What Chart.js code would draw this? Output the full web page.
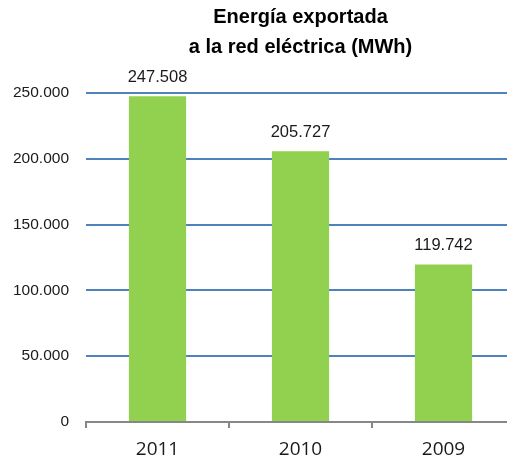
<!DOCTYPE html>
<html>
<head>
<meta charset="utf-8">
<script src="https://cdn.jsdelivr.net/npm/chart.js@4/dist/chart.umd.min.js"></script>
<style>
    html, body { margin: 0; padding: 0; background: #fff; overflow: hidden; }
    #wrap { width: 515px; height: 461px; }
</style>
</head>
<body>
<div id="wrap"><canvas id="energyChart" width="515" height="461"></canvas></div>
<script>
const years = ['2011', '2010', '2009'];
const energyMWh = [247508, 205727, 119742];
const yTicks = [0, 50000, 100000, 150000, 200000, 250000];
const titleLines = ['Energía exportada', 'a la red eléctrica (MWh)'];

// miles con punto: 247508 -> 247.508
function fmt(n) {
    return String(n).replace(/\B(?=(\d{3})+(?!\d))/g, '.');
}

// etiquetas encima de cada barra
const barValues = {
    id: 'barValues',
    afterDatasetsDraw(chart) {
        const ctx = chart.ctx;
        const meta = chart.getDatasetMeta(0);
        ctx.save();
        ctx.font = '16.5px "Liberation Sans", Arial, sans-serif';
        ctx.fillStyle = '#1a1a1a';
        ctx.textAlign = 'center';
        ctx.textBaseline = 'middle';
        meta.data.forEach((bar, i) => {
            ctx.fillText(fmt(energyMWh[i]), bar.x, bar.y - 19);
        });
        ctx.restore();
    }
};

document.addEventListener('DOMContentLoaded', function () {
    const ctx = document.getElementById('energyChart').getContext('2d');
    new Chart(ctx, {
        type: 'bar',
        data: {
            labels: years,
            datasets: [{
                data: energyMWh,
                backgroundColor: '#92D050',
                borderWidth: 0,
                barPercentage: 0.4,
                categoryPercentage: 1.0
            }]
        },
        options: {
            responsive: false,
            animation: false,
            layout: { padding: 0 },
            plugins: {
                legend: { display: false },
                tooltip: { enabled: false },
                title: {
                    display: true,
                    text: titleLines,
                    fullSize: false,
                    color: '#000',
                    font: { family: '"Liberation Sans", Arial, sans-serif', size: 20, weight: 'bold', lineHeight: 30 / 20 },
                    padding: { top: 2, bottom: 31 }
                }
            },
            scales: {
                x: {
                    offset: true,
                    afterFit: function (scale) { scale.height = 39; },
                    border: { display: true, color: '#878787', width: 2 },
                    grid: {
                        offset: true,
                        drawOnChartArea: false,
                        drawTicks: true,
                        tickLength: 6,
                        color: '#878787',
                        lineWidth: 2
                    },
                    ticks: {
                        color: '#1a1a1a',
                        padding: 10,
                        font: { family: '"Open Sans", sans-serif', size: 19 }
                    }
                },
                y: {
                    min: 0,
                    max: 250000,
                    afterFit: function (scale) { scale.width = 86; },
                    afterBuildTicks: function (scale) {
                        scale.ticks = yTicks.map(v => ({ value: v }));
                    },
                    border: { display: false },
                    grid: {
                        drawTicks: false,
                        lineWidth: 2,
                        color: c => (c.tick && c.tick.value === 0) ? 'rgba(0,0,0,0)' : '#4F81BD'
                    },
                    ticks: {
                        color: '#1a1a1a',
                        padding: 17,
                        font: { family: '"Liberation Sans", Arial, sans-serif', size: 15.5 },
                        callback: function (value) { return fmt(value); }
                    }
                }
            }
        },
        plugins: [barValues]
    });
});
</script>
</body>
</html>
